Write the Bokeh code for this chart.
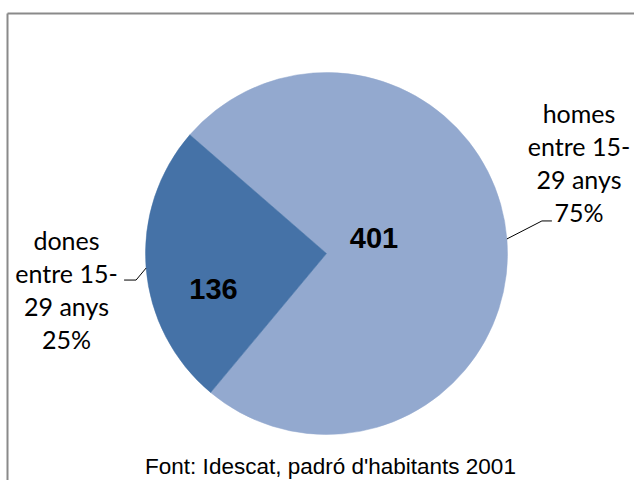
import math
from bokeh.plotting import figure
from bokeh.models import Range1d, ColumnDataSource
from bokeh.core.properties import value
from bokeh.embed import file_html
from bokeh.resources import INLINE

# ---- data ----
categories = ["homes", "dones"]
values = [401, 136]
colors = ["#93A9CF", "#4572A7"]
label_words = ["homes", "dones"]
label_mid_lines = ["entre 15-", "29 anys"]
source_note = "Font: Idescat, padró d'habitants 2001"

# ---- layout ----
W, H = 634, 480
def px(x):
    return x
def py(y):
    return H - y

cx, cy, R = px(326), py(253), 181
start0 = math.radians(230.2)
total = sum(values)

p = figure(width=W, height=H, x_range=Range1d(0, W), y_range=Range1d(0, H),
           output_backend="svg", toolbar_location=None, min_border=0,
           x_axis_location=None, y_axis_location=None)
p.grid.visible = False
p.outline_line_color = None
p.background_fill_color = "white"
p.border_fill_color = "white"

starts, ends, mids = [], [], []
a = start0
for v in values:
    span = v / total * 2 * math.pi
    starts.append(a)
    ends.append(a + span)
    mids.append(a + span / 2)
    a += span

src = ColumnDataSource(dict(start=starts, end=ends, color=colors))
p.wedge(x=cx, y=cy, radius=R, start_angle="start", end_angle="end",
        fill_color="color", line_color="color", line_width=0.5, source=src)

# value labels
val_r = [0.275, 0.655]
rot = math.radians(13)
vx = [cx + R * f * math.cos(m + rot) for f, m in zip(val_r, mids)]
vy = [cy + R * f * math.sin(m + rot) for f, m in zip(val_r, mids)]
p.text(x=vx, y=vy, text=[str(v) for v in values], text_font=value("Liberation Sans"),
       text_font_style="bold", text_font_size="29px", text_align="center",
       text_baseline="middle", text_color="black")

# category labels
pcts = [round(v / total * 100) for v in values]
block_centers = [(px(578.5), py(162)), (px(66), py(289))]
spacing = 33
for word, pct, (bx, by) in zip(label_words, pcts, block_centers):
    lines = [word] + label_mid_lines + [f"{pct}%"]
    ys = [by + spacing * (1.5 - i) for i in range(len(lines))]
    p.text(x=[bx] * len(lines), y=ys, text=lines, text_font=value("Lato"),
           text_font_size="25px", text_align="center", text_baseline="middle",
           text_color="black")

# leader lines
elbows = [(35, 18, 10), (-10, -12, -12)]
for m, (dx, dy, hl) in zip(mids, elbows):
    ex, ey = cx + R * math.cos(m), cy + R * math.sin(m)
    p.line(x=[ex, ex + dx, ex + dx + hl], y=[ey, ey + dy, ey + dy],
           line_color="black", line_width=1)

# frame
p.segment(x0=[px(7), px(7)], y0=[py(13), py(13)], x1=[px(7), W], y1=[0, py(13)],
          line_color="#8a8a8a", line_width=2)

# source note
p.text(x=[px(330)], y=[py(466)], text=[source_note], text_font=value("Liberation Sans"),
       text_font_size="22.5px", text_align="center", text_baseline="middle",
       text_color="black")

open("out.html", "w").write(file_html(p, INLINE))
